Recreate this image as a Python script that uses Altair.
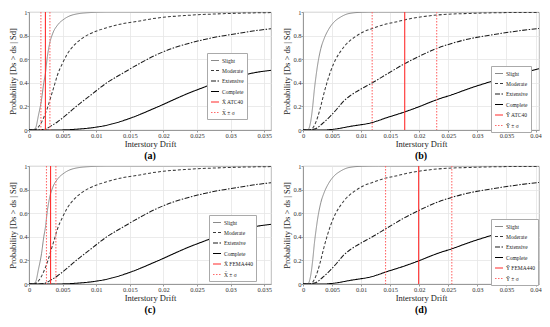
import altair as alt
import pandas as pd

SERIES = ["Slight", "Moderate", "Extensive", "Complete"]

# ---- X direction fragility curves (panels a, c) ----
slight_x_drift = [0, 0.0006, 0.0010, 0.00139, 0.00187, 0.0022, 0.00244, 0.00273, 0.00306, 0.00354, 0.00426, 0.00522, 0.00666, 0.00906, 0.012, 0.02, 0.036]
slight_x_prob = [0, 0, 0.02, 0.12, 0.26, 0.40, 0.48, 0.62, 0.73, 0.82, 0.89, 0.94, 0.978, 0.995, 1.0, 1.0, 1.0]
moderate_x_drift = [0, 0.0007, 0.0013, 0.0017, 0.00244, 0.00282, 0.0033, 0.00378, 0.00426, 0.00498, 0.0057, 0.00666, 0.00786, 0.00906, 0.01145, 0.01385, 0.0160, 0.0189, 0.0237, 0.0285, 0.0330, 0.0360]
moderate_x_prob = [0, 0, 0.02, 0.05, 0.14, 0.20, 0.29, 0.38, 0.47, 0.565, 0.645, 0.715, 0.775, 0.815, 0.865, 0.90, 0.92, 0.948, 0.972, 0.985, 0.992, 0.995]
extensive_x_drift = [0, 0.0015, 0.00234, 0.0033, 0.00426, 0.0057, 0.00714, 0.00906, 0.01145, 0.01385, 0.0165, 0.0189, 0.0213, 0.0237, 0.0261, 0.0285, 0.0309, 0.0333, 0.036]
extensive_x_prob = [0, 0, 0.006, 0.035, 0.07, 0.135, 0.205, 0.29, 0.395, 0.478, 0.565, 0.636, 0.692, 0.733, 0.767, 0.795, 0.817, 0.839, 0.858]
complete_x_drift = [0, 0.004, 0.00666, 0.00906, 0.01145, 0.0141, 0.0153, 0.0189, 0.0237, 0.0261, 0.0285, 0.0309, 0.0333, 0.036]
complete_x_prob = [0, 0, 0.005, 0.017, 0.039, 0.081, 0.105, 0.19, 0.311, 0.364, 0.414, 0.45, 0.483, 0.506]

# ---- Y direction fragility curves (panels b, d) ----
slight_y_drift = [0, 0.0008, 0.0014, 0.00168, 0.00196, 0.00224, 0.00252, 0.00308, 0.00364, 0.00447, 0.00532, 0.00643, 0.0081, 0.0103, 0.013, 0.041]
slight_y_prob = [0, 0, 0.095, 0.206, 0.345, 0.456, 0.553, 0.692, 0.775, 0.858, 0.914, 0.956, 0.989, 0.998, 1.0, 1.0]
moderate_y_drift = [0, 0.0009, 0.00152, 0.00196, 0.00252, 0.00308, 0.00364, 0.0042, 0.00475, 0.00559, 0.00643, 0.00755, 0.00895, 0.01035, 0.01203, 0.01371, 0.01594, 0.0176, 0.0232, 0.0288, 0.035, 0.041]
moderate_y_prob = [0, 0, 0.01, 0.039, 0.108, 0.206, 0.317, 0.414, 0.497, 0.595, 0.664, 0.733, 0.789, 0.831, 0.862, 0.89, 0.915, 0.935, 0.975, 0.988, 0.995, 0.997]
extensive_y_drift = [0, 0.0012, 0.00168, 0.00252, 0.00336, 0.00475, 0.00587, 0.00699, 0.0081, 0.01007, 0.01174, 0.01454, 0.01734, 0.02013, 0.02293, 0.02573, 0.02852, 0.03132, 0.03412, 0.03691, 0.0406]
extensive_y_prob = [0, 0, 0.005, 0.02, 0.055, 0.12, 0.18, 0.245, 0.29, 0.35, 0.395, 0.477, 0.558, 0.628, 0.69, 0.736, 0.772, 0.797, 0.819, 0.839, 0.861]
complete_y_drift = [0, 0.0035, 0.005, 0.0084, 0.0117, 0.0145, 0.0176, 0.0201, 0.0232, 0.0257, 0.0288, 0.0313, 0.0344, 0.0369, 0.0406]
complete_y_prob = [0, 0, 0.005, 0.033, 0.061, 0.106, 0.155, 0.2, 0.26, 0.3, 0.355, 0.395, 0.44, 0.47, 0.52]

# ---- vertical reference lines: [mean, mean - sigma, mean + sigma] ----
lines_a = [0.00244, 0.00177, 0.00311]
lines_b = [0.0175, 0.0119, 0.0230]
lines_c = [0.00321, 0.0026, 0.0040]
lines_d = [0.0199, 0.0142, 0.0256]

labels_a = ["X\u0304 ATC40", "X\u0304 \u00b1 \u03c3"]
labels_b = ["\u0232 ATC40", "\u0232 \u00b1 \u03c3"]
labels_c = ["X\u0304 FEMA440", "X\u0304 \u00b1 \u03c3"]
labels_d = ["\u0232 FEMA440", "\u0232 \u00b1 \u03c3"]

xticks_ac = [0, 0.005, 0.01, 0.015, 0.02, 0.025, 0.03, 0.035]
xticks_bd = [0, 0.005, 0.01, 0.015, 0.02, 0.025, 0.03, 0.035, 0.04]
yticks = [0, 0.2, 0.4, 0.6, 0.8, 1]

FONT = "Liberation Serif"


def curves_frame(sets):
    rows = []
    for name, (xs, ps) in zip(SERIES, sets):
        for x, p in zip(xs, ps):
            rows.append({"drift": x, "prob": p, "series": name})
    return pd.DataFrame(rows)


curves_X = curves_frame([(slight_x_drift, slight_x_prob), (moderate_x_drift, moderate_x_prob),
                         (extensive_x_drift, extensive_x_prob), (complete_x_drift, complete_x_prob)])
curves_Y = curves_frame([(slight_y_drift, slight_y_prob), (moderate_y_drift, moderate_y_prob),
                         (extensive_y_drift, extensive_y_prob), (complete_y_drift, complete_y_prob)])


def panel(curves, lines, labels, xmax, xticks, width, height, lx, ly, caption, mean_w):
    mean_lab, sig_lab = labels
    rules = pd.DataFrame({
        "drift": lines,
        "series": [mean_lab, sig_lab, sig_lab],
    })
    domain = SERIES + [mean_lab, sig_lab]
    colors = ["#8a8a8a", "#3a3a3a", "#1a1a1a", "#000000", "#ff2a2a", "#ff6a6a"]
    dashes = [[1, 0], [3, 2], [5, 1.5, 1.5, 1.5], [1, 0], [1, 0], [1.5, 1.5]]
    widths = [1.0, 1.1, 1.3, 2.0, mean_w, 1.1]
    leg = alt.Legend(title=None, orient="none", legendX=lx, legendY=ly)
    color = alt.Color("series:N", scale=alt.Scale(domain=domain, range=colors), legend=leg)
    dash = alt.StrokeDash("series:N", scale=alt.Scale(domain=domain, range=dashes), legend=leg)
    sw = alt.StrokeWidth("series:N", scale=alt.Scale(domain=domain, range=widths), legend=leg)
    xaxis = alt.Axis(values=xticks, format="~g", title="Interstory Drift",
                     labelFlush=False, labelOverlap=False, tickCount=len(xticks))
    xscale = alt.Scale(domain=[0, xmax], nice=False)
    xenc = alt.X("drift:Q", scale=xscale, axis=xaxis)
    yenc = alt.Y("prob:Q",
                 scale=alt.Scale(domain=[0, 1], nice=False),
                 axis=alt.Axis(values=yticks, format="~g", title="Probability [Ds > ds | Sd]"))
    line = alt.Chart(curves).mark_line(interpolate="monotone", clip=True).encode(
        x=xenc, y=yenc, color=color, strokeDash=dash, strokeWidth=sw)
    rule = alt.Chart(rules).mark_rule(clip=True).encode(
        x=alt.X("drift:Q", scale=xscale, axis=xaxis), color=color, strokeDash=dash, strokeWidth=sw)
    return alt.layer(line, rule).properties(
        width=width, height=height,
        title=alt.TitleParams(caption, orient="bottom", font=FONT, fontSize=10,
                              fontWeight="bold", offset=3, color="#000"),
    )


W_L, W_R, H = 242, 236, 118
pa = panel(curves_X, lines_a, labels_a, 0.036, xticks_ac, W_L, H, 178, 41, "(a)", 1.8)
pb = panel(curves_Y, lines_b, labels_b, 0.0406, xticks_bd, W_R, H, 188, 54, "(b)", 1.8)
pc = panel(curves_X, lines_c, labels_c, 0.036, xticks_ac, W_L, H, 180, 49, "(c)", 2.5)
pd_ = panel(curves_Y, lines_d, labels_d, 0.0406, xticks_bd, W_R, H, 188, 53, "(d)", 2.0)

res = dict(color="independent", strokeDash="independent", strokeWidth="independent")
row1 = alt.hconcat(pa, pb, spacing=10).resolve_scale(**res).resolve_legend(**res)
row2 = alt.hconcat(pc, pd_, spacing=10).resolve_scale(**res).resolve_legend(**res)

chart = alt.vconcat(row1, row2, spacing=0).resolve_scale(**res).resolve_legend(**res).properties(
    padding={"left": 0, "top": 0, "right": 0, "bottom": 0}
).configure_axis(
    labelFont=FONT, titleFont=FONT, labelFontSize=6.5, titleFontSize=8.5,
    titleFontWeight="normal", labelColor="#333", titleColor="#222",
    gridColor="#e6e6e6", gridWidth=0.8, domainColor="#999", tickColor="#999",
    tickSize=2, labelPadding=0, titlePadding=1,
).configure_view(
    stroke="#aaa", strokeWidth=0.8,
).configure_legend(
    labelFont=FONT, labelFontSize=5.5, labelColor="#222", symbolType="stroke", symbolSize=64,
    rowPadding=1.5, padding=3, strokeColor="#aaa", fillColor="white", labelOffset=2,
    cornerRadius=0,
)

chart.save("out.html", embed_options={"renderer": "svg", "actions": False})
